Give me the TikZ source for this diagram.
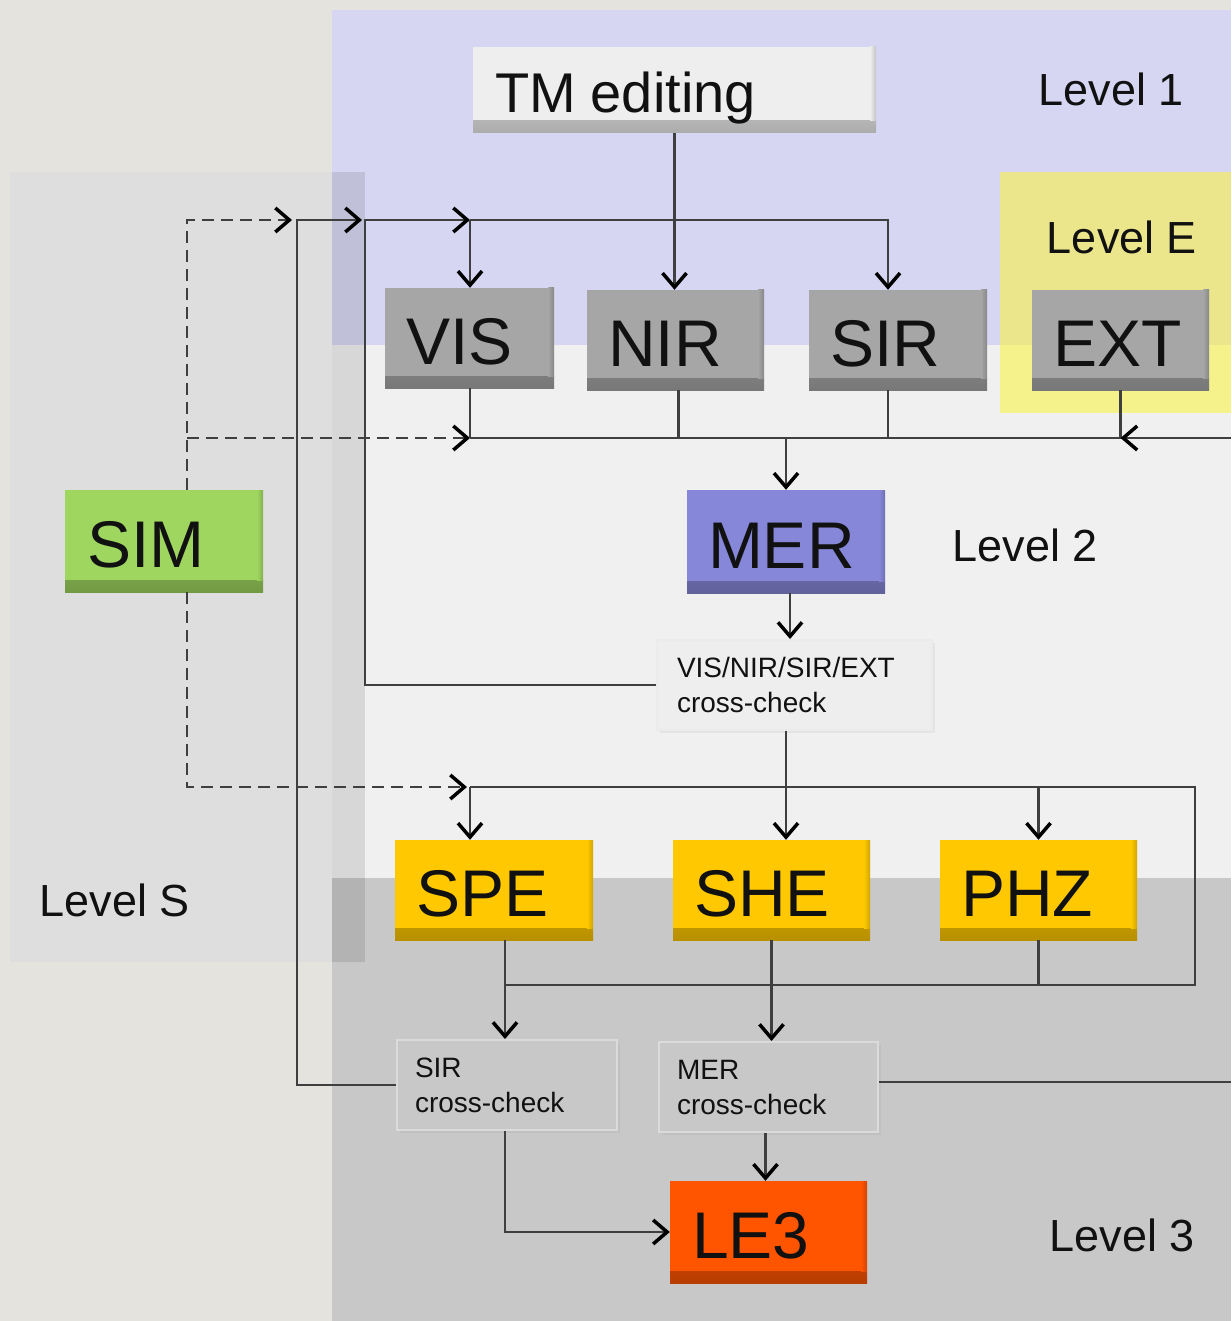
\documentclass[tikz,border=0pt]{standalone}
\usepackage{fontspec}
\setmainfont{Liberation Sans}
\usetikzlibrary{arrows.meta,calc,shadows}

\definecolor{bgtex}{HTML}{E4E3DE}
\definecolor{lvlone}{HTML}{D6D6F2}
\definecolor{lvltwo}{HTML}{F0F0F0}
\definecolor{lvlthree}{HTML}{C8C8C8}
\definecolor{lvlS}{HTML}{DEDEDE}
\definecolor{yelA}{HTML}{EBE68C}
\definecolor{yelB}{HTML}{F5F28C}
\definecolor{instgray}{HTML}{A6A6A6}
\definecolor{tmgray}{HTML}{EEEEEE}
\definecolor{merblue}{HTML}{8787D9}
\definecolor{simgreen}{HTML}{9FD660}
\definecolor{gold}{HTML}{FFC800}
\definecolor{lethree}{HTML}{FF5400}
\definecolor{linec}{HTML}{3F3F3F}
\definecolor{txt}{HTML}{111111}

\newcommand\BoxFont{\fontsize{66}{70}\selectfont}
\newcommand\LvlFont{\fontsize{45}{50}\selectfont}
\newcommand\SmallFont{\fontsize{28}{35}\selectfont}

\begin{document}
\begin{tikzpicture}[x=1pt,y=-1pt,
  bevel/.style={fill=#1, draw=none, inner ysep=0pt, text=txt, font=\BoxFont,
    align=left, inner xsep=21pt, text height=53pt, text depth=0pt,
    path picture={
      \shade[top color=#1, bottom color=#1!72!black]
        ($(path picture bounding box.south west)+(0,-12)$) rectangle (path picture bounding box.south east);
      \shade[left color=#1, right color=#1!82!black]
        ($(path picture bounding box.north east)+(-6,0)$) rectangle ($(path picture bounding box.south east)+(0,-12)$);
    }},
  check/.style={fill=#1, line width=2pt, inner xsep=18pt,
    inner ysep=0pt, align=left, text=txt, font=\SmallFont,
    drop shadow={opacity=0.10, shadow xshift=3pt, shadow yshift=-3pt}},
  level/.style={text=txt, font=\LvlFont, inner sep=0pt},
  conn/.style={draw=linec, line width=2.2pt},
  dashconn/.style={conn, dash pattern=on 12pt off 7pt},
  tip/.style={-{Straight Barb[length=14pt,width=24pt,line width=3.5pt,color=black]}},
]

% backdrop and fixed frame
\fill[bgtex] (0,0) rectangle (1231,1321);
\useasboundingbox (0,0) rectangle (1231,1321);

% level bands of the main panel
\fill[lvlone]   (332,10)  rectangle (1231,345);
\fill[lvltwo]   (332,345) rectangle (1231,878);
\fill[lvlthree] (332,878) rectangle (1231,1321);

% level E area
\fill[yelA] (1000,172) rectangle (1231,345);
\fill[yelB] (1000,345) rectangle (1231,413);

% level S panel, translucent where it overlaps the main panel
\fill[lvlS] (10,172) rectangle (332,962);
\fill[black, opacity=0.1] (332,172) rectangle (365,962);

% level labels
\node[level] (l1) at (1111,89)  {Level 1};
\node[level] (lE) at (1122,237) {Level E};
\node[level] (l2) at (1025,545) {Level 2};
\node[level] (lS) at (115,900)  {Level S};
\node[level] (l3) at (1122,1235) {Level 3};

% processing boxes
\node[bevel=tmgray, minimum width=403, minimum height=86, text width=359, text height=46pt] (tm) at (674.5,90) {\fontsize{56}{60}\selectfont TM\hspace{15pt}editing};
\node[bevel=instgray, minimum width=169, minimum height=100, text width=127] (vis) at (469.5,338) {VIS};
\node[bevel=instgray, minimum width=177, minimum height=100, text width=135] (nir) at (675.5,340) {NIR};
\node[bevel=instgray, minimum width=178, minimum height=100, text width=136] (sir) at (898,340) {SIR};
\node[bevel=instgray, minimum width=177, minimum height=100, text width=135] (ext) at (1120.5,340) {EXT};
\node[bevel=merblue, minimum width=198, minimum height=103, text width=156] (mer) at (786,541.5) {MER};
\node[bevel=simgreen, minimum width=198, minimum height=102, text width=154, inner xsep=22pt] (sim) at (164,541) {SIM};
\node[bevel=gold, minimum width=198, minimum height=100, text width=156] (spe) at (494,890) {SPE};
\node[bevel=gold, minimum width=197, minimum height=100, text width=155] (she) at (771.5,890) {SHE};
\node[bevel=gold, minimum width=197, minimum height=100, text width=155] (phz) at (1038.5,890) {PHZ};
\node[bevel=lethree, minimum width=197, minimum height=102, text width=153, inner xsep=22pt] (le3) at (768.5,1232) {LE3};

% cross-check boxes
\node[check=tmgray, draw=black!8, minimum width=275, minimum height=90, text width=235, inner xsep=20pt] (cc1) at (794.5,685) {VIS/NIR/SIR/EXT\\cross-check};
\node[check=lvlthree, draw=white!35!lvlthree, minimum width=220, minimum height=90, text width=184] (cc2) at (507,1085) {SIR\\cross-check};
\node[check=lvlthree, draw=white!35!lvlthree, minimum width=219, minimum height=90, text width=183] (cc3) at (768.5,1087) {MER\\cross-check};

% junction points of the buses
\coordinate (dTop) at (187,220);
\coordinate (dMid) at (187,438);
\coordinate (dLow) at (187,787);
\coordinate (sA) at (297,220);
\coordinate (sB) at (365,220);
\coordinate (sC) at (470,220);
\coordinate (busL) at (470,438);
\coordinate (busR) at (1231,438);
\coordinate (lowL) at (470,787);
\coordinate (lowR) at (1195,787);
\coordinate (lowRB) at (1195,985);
\coordinate (botL) at (505,985);
\coordinate (sirIn) at ($(sir.north)+(-10,0)$);
\coordinate (sirOut) at ($(sir.south)+(-10,0)$);
\coordinate (nirOut) at ($(nir.south)+(3,0)$);
\coordinate (merOut) at ($(mer.south)+(4,0)$);
\coordinate (sheIn) at ($(she.north)+(14.5,0)$);
\coordinate (mccOut) at ($(cc3.east)+(0,-5)$);
\coordinate (mccDown) at ($(cc3.south)+(-3,0)$);

% simulation feeds (dashed)
\draw[dashconn, tip] (sim.north -| dTop) -- (dTop) -- ([xshift=-5]sA);
\draw[dashconn, tip] (dMid) -- (busL);
\draw[dashconn, tip] (sim.south -| dLow) -- (dLow) -- ([xshift=-3]lowL);

% feedback loops into level 1
\draw[conn, tip] (cc2.west) -- (cc2.west -| sA) -- (sA) -- ([xshift=-3]sB);
\draw[conn, tip] (cc1.west) -| (sB) -- (sC);
\draw[conn, tip] (sC) -| (sirIn);
\draw[conn, tip] (sC) -- (sC |- vis.north);
\draw[conn, tip] (tm.south) -- (tm.south |- nir.north);

% level 1 output bus
\draw[conn] (busL) -- (busR);
\draw[conn] (vis.south -| busL) -- (busL);
\draw[conn] (nirOut) -- (nirOut |- busL);
\draw[conn] (sirOut) -- (sirOut |- busL);
\draw[conn] (ext.south) -- (ext.south |- busL);
\draw[conn, tip] (busR) -- (busR -| ext.south);
\draw[conn, tip] (mer.north |- busL) -- (mer.north);

% level 2
\draw[conn, tip] (merOut) -- (merOut |- cc1.north);
\draw[conn, tip] (sheIn |- cc1.south) -- (sheIn);

% level 3 input bus
\draw[conn] (lowL) -- (lowR) -- (lowRB) -- (botL);
\draw[conn, tip] (lowL) -- (lowL |- spe.north);
\draw[conn, tip] (phz.north |- lowL) -- (phz.north);

% level 3 outputs
\draw[conn] (spe.south -| botL) -- (botL);
\draw[conn] (phz.south) -- (phz.south |- botL);
\draw[conn, tip] (botL) -- (botL |- cc2.north);
\draw[conn, tip] (she.south) -- (she.south |- cc3.north);
\draw[conn] (mccOut) -- (mccOut -| busR);
\draw[conn, tip] (cc2.south -| botL) |- (le3.west);
\draw[conn, tip] (mccDown) -- (mccDown |- le3.north);

\end{tikzpicture}
\end{document}
